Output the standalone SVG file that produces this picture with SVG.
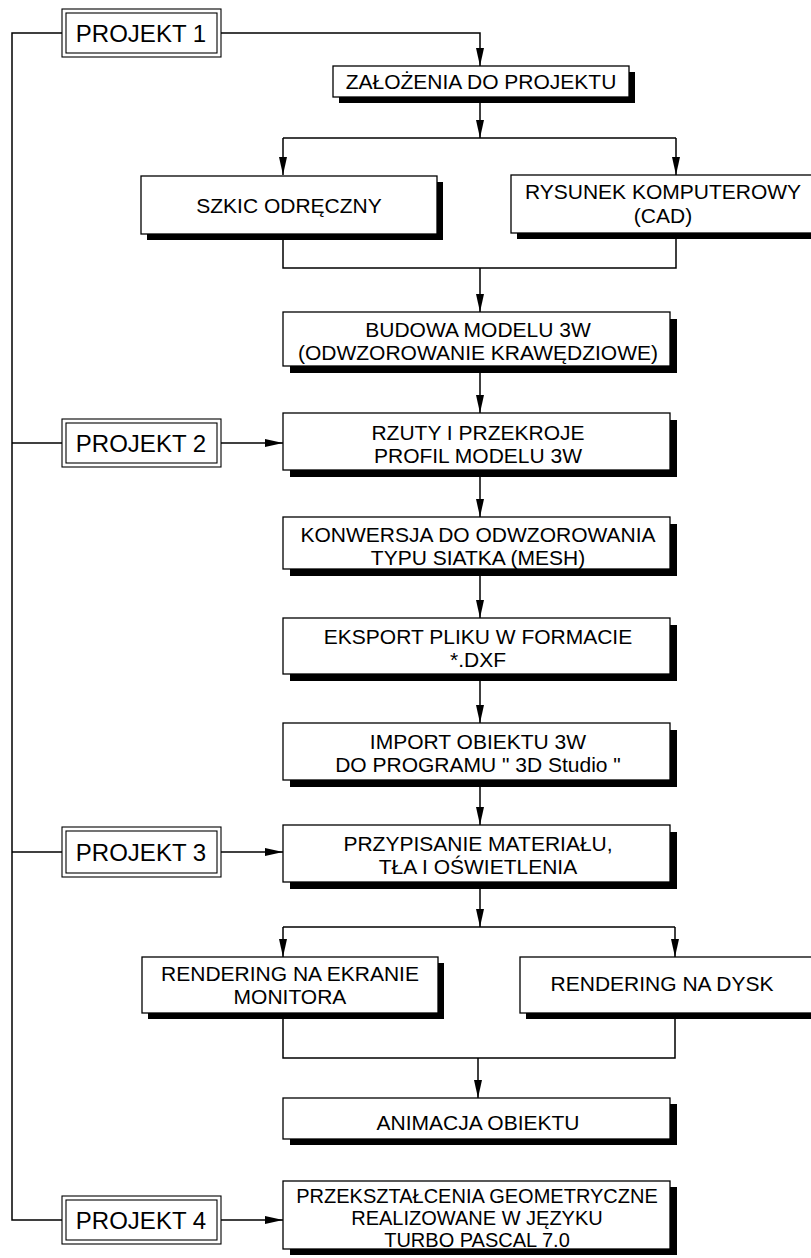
<svg xmlns="http://www.w3.org/2000/svg" width="811" height="1258" viewBox="0 0 811 1258">
<defs>
<style>
.box{fill:#fff;stroke:#000;stroke-width:1.3}
.sh{fill:#000}
.t{font-family:"Liberation Sans",Arial,sans-serif;font-size:21px;text-anchor:middle;fill:#000}
.pt{font-size:24px}
.st{font-size:20px}
.ln{fill:none;stroke:#000;stroke-width:1.5}
.pb{fill:#fff;stroke:#000;stroke-width:1.1}
</style>
<marker id="ah" markerUnits="userSpaceOnUse" markerWidth="18" markerHeight="8" refX="18" refY="4" orient="auto">
<path d="M0,0 L18,4 L0,8 z" fill="#000"/>
</marker>
</defs>
<rect width="811" height="1258" fill="#fff"/>

<g id="connectors">
<path class="ln" d="M62,33 H12 V1220 H62"/>
<path class="ln" d="M12,443 H62"/>
<path class="ln" d="M12,852 H62"/>
<path class="ln" d="M221,33 H480 V66" marker-end="url(#ah)"/>
<path class="ln" d="M480,103 V138" marker-end="url(#ah)"/>
<path class="ln" d="M283,138 H676"/>
<path class="ln" d="M283,138 V175" marker-end="url(#ah)"/>
<path class="ln" d="M676,138 V175" marker-end="url(#ah)"/>
<path class="ln" d="M283,240 V268 H676 V239"/>
<path class="ln" d="M480,268 V312" marker-end="url(#ah)"/>
<path class="ln" d="M480,373 V413" marker-end="url(#ah)"/>
<path class="ln" d="M480,477 V517" marker-end="url(#ah)"/>
<path class="ln" d="M480,576 V618" marker-end="url(#ah)"/>
<path class="ln" d="M480,681 V723" marker-end="url(#ah)"/>
<path class="ln" d="M480,787 V825" marker-end="url(#ah)"/>
<path class="ln" d="M480,889 V927" marker-end="url(#ah)"/>
<path class="ln" d="M283,927 H675"/>
<path class="ln" d="M283,927 V957" marker-end="url(#ah)"/>
<path class="ln" d="M675,927 V957" marker-end="url(#ah)"/>
<path class="ln" d="M283,1019 V1058 H675 V1019"/>
<path class="ln" d="M478,1058 V1098" marker-end="url(#ah)"/>
<path class="ln" d="M221,443 H283" marker-end="url(#ah)"/>
<path class="ln" d="M221,852 H283" marker-end="url(#ah)"/>
<path class="ln" d="M221,1220 H283" marker-end="url(#ah)"/>
</g>

<g id="projekt1">
<rect class="pb" x="62" y="9" width="159" height="48"/>
<rect class="pb" x="66" y="13" width="151" height="40"/>
<text class="t pt" x="141" y="42">PROJEKT 1</text>
</g>
<g id="projekt2">
<rect class="pb" x="62" y="419" width="159" height="48"/>
<rect class="pb" x="66" y="423" width="151" height="40"/>
<text class="t pt" x="141" y="452">PROJEKT 2</text>
</g>
<g id="projekt3">
<rect class="pb" x="62" y="827" width="159" height="50"/>
<rect class="pb" x="66" y="831" width="151" height="42"/>
<text class="t pt" x="141" y="861">PROJEKT 3</text>
</g>
<g id="projekt4">
<rect class="pb" x="62" y="1196" width="159" height="48"/>
<rect class="pb" x="66" y="1200" width="151" height="40"/>
<text class="t pt" x="141" y="1229">PROJEKT 4</text>
</g>

<g id="zalozenia">
<rect class="sh" x="339" y="72" width="296" height="31"/>
<rect class="box" x="333" y="66" width="296" height="31"/>
<text class="t" x="481" y="89">ZAŁOŻENIA DO PROJEKTU</text>
</g>
<g id="szkic">
<rect class="sh" x="147" y="182" width="296" height="58"/>
<rect class="box" x="141" y="176" width="296" height="58"/>
<text class="t" x="289" y="213">SZKIC ODRĘCZNY</text>
</g>
<g id="rysunek">
<rect class="sh" x="517" y="181" width="310" height="58"/>
<rect class="box" x="511" y="175" width="310" height="58"/>
<text class="t" x="663" y="199">RYSUNEK KOMPUTEROWY</text>
<text class="t" x="663" y="223">(CAD)</text>
</g>
<g id="budowa">
<rect class="sh" x="290" y="319" width="387" height="54"/>
<rect class="box" x="283" y="312" width="387" height="54"/>
<text class="t" x="478" y="337">BUDOWA MODELU 3W</text>
<text class="t" x="478" y="360">(ODWZOROWANIE KRAWĘDZIOWE)</text>
</g>
<g id="rzuty">
<rect class="sh" x="290" y="420" width="387" height="57"/>
<rect class="box" x="283" y="413" width="387" height="57"/>
<text class="t" x="478" y="440">RZUTY I PRZEKROJE</text>
<text class="t" x="478" y="463">PROFIL MODELU 3W</text>
</g>
<g id="konwersja">
<rect class="sh" x="290" y="524" width="387" height="52"/>
<rect class="box" x="283" y="517" width="387" height="52"/>
<text class="t" x="478" y="542">KONWERSJA DO ODWZOROWANIA</text>
<text class="t" x="478" y="565">TYPU SIATKA (MESH)</text>
</g>
<g id="eksport">
<rect class="sh" x="290" y="625" width="387" height="56"/>
<rect class="box" x="283" y="618" width="387" height="56"/>
<text class="t" x="478" y="644">EKSPORT PLIKU W FORMACIE</text>
<text class="t" x="478" y="667">*.DXF</text>
</g>
<g id="import">
<rect class="sh" x="290" y="730" width="387" height="57"/>
<rect class="box" x="283" y="723" width="387" height="57"/>
<text class="t" x="478" y="749">IMPORT OBIEKTU 3W</text>
<text class="t" x="478" y="772">DO PROGRAMU " 3D Studio "</text>
</g>
<g id="przypisanie">
<rect class="sh" x="290" y="832" width="387" height="57"/>
<rect class="box" x="283" y="825" width="387" height="57"/>
<text class="t" x="478" y="851">PRZYPISANIE MATERIAŁU,</text>
<text class="t" x="478" y="874">TŁA I OŚWIETLENIA</text>
</g>
<g id="rendering-ekran">
<rect class="sh" x="148" y="963" width="296" height="56"/>
<rect class="box" x="142" y="957" width="296" height="56"/>
<text class="t" x="290" y="981">RENDERING NA EKRANIE</text>
<text class="t" x="290" y="1004">MONITORA</text>
</g>
<g id="rendering-dysk">
<rect class="sh" x="526" y="963" width="300" height="56"/>
<rect class="box" x="520" y="957" width="300" height="56"/>
<text class="t" x="662" y="991">RENDERING NA DYSK</text>
</g>
<g id="animacja">
<rect class="sh" x="290" y="1104" width="387" height="41"/>
<rect class="box" x="283" y="1098" width="387" height="41"/>
<text class="t" x="478" y="1130">ANIMACJA OBIEKTU</text>
</g>
<g id="przeksztalcenia">
<rect class="sh" x="290" y="1187" width="387" height="68"/>
<rect class="box" x="283" y="1181" width="387" height="68"/>
<text class="t st" x="477" y="1203">PRZEKSZTAŁCENIA GEOMETRYCZNE</text>
<text class="t st" x="477" y="1225">REALIZOWANE W JĘZYKU</text>
<text class="t st" x="477" y="1247">TURBO PASCAL 7.0</text>
</g>
</svg>
